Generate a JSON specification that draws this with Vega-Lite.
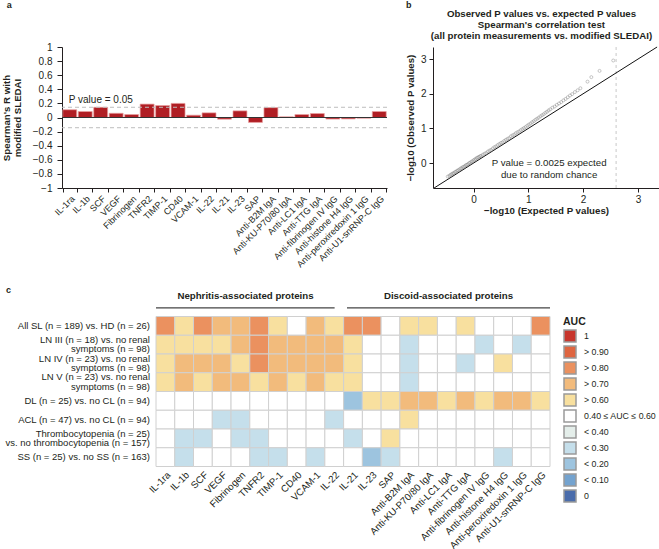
{
  "$schema": "https://vega.github.io/schema/vega-lite/v6.json",
  "padding": {"left": 1, "top": 1, "right": 0, "bottom": 0},
  "background": "white",
  "config": {
    "font": "Liberation Sans",
    "view": {"stroke": null},
    "axis": {"labelFont": "Liberation Sans", "titleFont": "Liberation Sans", "labelColor": "#231f20", "titleColor": "#231f20", "domainColor": "#231f20", "tickColor": "#231f20", "labelOverlap": false},
    "text": {"color": "#231f20", "font": "Liberation Sans"},
    "title": {"font": "Liberation Sans", "color": "#231f20"},
    "legend": {"labelFont": "Liberation Sans", "titleFont": "Liberation Sans", "labelColor": "#231f20", "titleColor": "#231f20"}
  },
  "datasets": {
    "bars": [
      {"protein": "IL-1ra", "r": 0.11}, {"protein": "IL-1b", "r": 0.085}, {"protein": "SCF", "r": 0.145},
      {"protein": "VEGF", "r": 0.06}, {"protein": "Fibrinogen", "r": 0.042}, {"protein": "TNFR2", "r": 0.19},
      {"protein": "TIMP-1", "r": 0.17}, {"protein": "CD40", "r": 0.2}, {"protein": "VCAM-1", "r": 0.033},
      {"protein": "IL-22", "r": 0.066}, {"protein": "IL-21", "r": -0.024}, {"protein": "IL-23", "r": 0.094},
      {"protein": "SAP", "r": -0.07}, {"protein": "Anti-B2M IgA", "r": 0.14}, {"protein": "Anti-KU-P70/80 IgA", "r": 0.01},
      {"protein": "Anti-LC1 IgA", "r": 0.042}, {"protein": "Anti-TTG IgA", "r": 0.056}, {"protein": "Anti-fibrinogen IV IgG", "r": -0.022},
      {"protein": "Anti-histone H4 IgG", "r": -0.02}, {"protein": "Anti-peroxiredoxin 1 IgG", "r": -0.01}, {"protein": "Anti-U1-snRNP-C IgG", "r": 0.085}
    ],
    "qq": [
      {"e": -0.47, "o": -0.39}, {"e": -0.44, "o": -0.37}, {"e": -0.42, "o": -0.34}, {"e": -0.4, "o": -0.32},
      {"e": -0.38, "o": -0.3}, {"e": -0.36, "o": -0.29}, {"e": -0.34, "o": -0.26}, {"e": -0.32, "o": -0.25},
      {"e": -0.3, "o": -0.22}, {"e": -0.28, "o": -0.21}, {"e": -0.26, "o": -0.19}, {"e": -0.24, "o": -0.16},
      {"e": -0.22, "o": -0.15}, {"e": -0.2, "o": -0.12}, {"e": -0.18, "o": -0.11}, {"e": -0.16, "o": -0.09},
      {"e": -0.14, "o": -0.06}, {"e": -0.12, "o": -0.05}, {"e": -0.1, "o": -0.03}, {"e": -0.08, "o": 0.0},
      {"e": -0.06, "o": 0.01}, {"e": -0.04, "o": 0.04}, {"e": -0.02, "o": 0.05}, {"e": 0.0, "o": 0.08},
      {"e": 0.02, "o": 0.1}, {"e": 0.04, "o": 0.12}, {"e": 0.06, "o": 0.15}, {"e": 0.08, "o": 0.16},
      {"e": 0.1, "o": 0.18}, {"e": 0.12, "o": 0.2}, {"e": 0.14, "o": 0.21}, {"e": 0.17, "o": 0.24},
      {"e": 0.2, "o": 0.27}, {"e": 0.23, "o": 0.29}, {"e": 0.26, "o": 0.33}, {"e": 0.29, "o": 0.36},
      {"e": 0.32, "o": 0.38}, {"e": 0.35, "o": 0.42}, {"e": 0.38, "o": 0.46}, {"e": 0.41, "o": 0.48},
      {"e": 0.44, "o": 0.52}, {"e": 0.47, "o": 0.55}, {"e": 0.5, "o": 0.58}, {"e": 0.53, "o": 0.6},
      {"e": 0.56, "o": 0.64}, {"e": 0.59, "o": 0.67}, {"e": 0.62, "o": 0.7}, {"e": 0.65, "o": 0.72},
      {"e": 0.68, "o": 0.77}, {"e": 0.71, "o": 0.8}, {"e": 0.74, "o": 0.82}, {"e": 0.77, "o": 0.86},
      {"e": 0.8, "o": 0.89}, {"e": 0.83, "o": 0.91}, {"e": 0.86, "o": 0.95}, {"e": 0.89, "o": 0.98},
      {"e": 0.92, "o": 1.01}, {"e": 0.95, "o": 1.04}, {"e": 0.98, "o": 1.08}, {"e": 1.01, "o": 1.11},
      {"e": 1.04, "o": 1.14}, {"e": 1.07, "o": 1.18}, {"e": 1.1, "o": 1.21}, {"e": 1.13, "o": 1.25},
      {"e": 1.16, "o": 1.28}, {"e": 1.19, "o": 1.31}, {"e": 1.22, "o": 1.35}, {"e": 1.25, "o": 1.38},
      {"e": 1.28, "o": 1.41}, {"e": 1.31, "o": 1.45}, {"e": 1.34, "o": 1.48}, {"e": 1.37, "o": 1.52},
      {"e": 1.4, "o": 1.55}, {"e": 1.44, "o": 1.6}, {"e": 1.48, "o": 1.63}, {"e": 1.52, "o": 1.68},
      {"e": 1.56, "o": 1.72}, {"e": 1.6, "o": 1.76}, {"e": 1.64, "o": 1.81}, {"e": 1.68, "o": 1.85},
      {"e": 1.72, "o": 1.9}, {"e": 1.76, "o": 1.95}, {"e": 1.8, "o": 1.99}, {"e": 1.85, "o": 2.05},
      {"e": 1.9, "o": 2.1}, {"e": 1.95, "o": 2.16}, {"e": 2.08, "o": 2.35}, {"e": 2.15, "o": 2.48},
      {"e": 2.3, "o": 2.66}, {"e": 2.55, "o": 2.96}
    ],
    "rows": [
      {"r": 1, "g": "All SL (n = 189) vs. HD (n = 26)", "lines": ["All SL (n = 189) vs. HD (n = 26)"]},
      {"r": 2, "g": "LN III (n = 18) vs. no renal symptoms (n = 98)", "lines": ["LN III (n = 18) vs. no renal", "symptoms (n = 98)"]},
      {"r": 3, "g": "LN IV (n = 23) vs. no renal symptoms (n = 98)", "lines": ["LN IV (n = 23) vs. no renal", "symptoms (n = 98)"]},
      {"r": 4, "g": "LN V (n = 23) vs. no renal symptoms (n = 98)", "lines": ["LN V (n = 23) vs. no renal", "symptoms (n = 98)"]},
      {"r": 5, "g": "DL (n = 25) vs. no CL (n = 94)", "lines": ["DL (n = 25) vs. no CL (n = 94)"]},
      {"r": 6, "g": "ACL (n = 47) vs. no CL (n = 94)", "lines": ["ACL (n = 47) vs. no CL (n = 94)"]},
      {"r": 7, "g": "Thrombocytopenia (n = 25) vs. no thrombocytopenia (n = 157)", "lines": ["Thrombocytopenia (n = 25)", "vs. no thrombocytopenia (n = 157)"]},
      {"r": 8, "g": "SS (n = 25) vs. no SS (n = 163)", "lines": ["SS (n = 25) vs. no SS (n = 163)"]}
    ],
    "cells": [
      {"r": 1, "p": "IL-1ra", "a": "> 0.80"}, {"r": 1, "p": "IL-1b", "a": "> 0.60"}, {"r": 1, "p": "SCF", "a": "> 0.80"},
      {"r": 1, "p": "VEGF", "a": "> 0.70"}, {"r": 1, "p": "Fibrinogen", "a": "> 0.70"}, {"r": 1, "p": "TNFR2", "a": "> 0.80"},
      {"r": 1, "p": "TIMP-1", "a": "> 0.60"}, {"r": 1, "p": "CD40", "a": "0.40 ≤ AUC ≤ 0.60"}, {"r": 1, "p": "VCAM-1", "a": "> 0.70"},
      {"r": 1, "p": "IL-22", "a": "> 0.60"}, {"r": 1, "p": "IL-21", "a": "> 0.80"}, {"r": 1, "p": "IL-23", "a": "> 0.80"},
      {"r": 1, "p": "SAP", "a": "0.40 ≤ AUC ≤ 0.60"}, {"r": 1, "p": "Anti-B2M IgA", "a": "> 0.60"}, {"r": 1, "p": "Anti-KU-P70/80 IgA", "a": "> 0.60"},
      {"r": 1, "p": "Anti-LC1 IgA", "a": "0.40 ≤ AUC ≤ 0.60"}, {"r": 1, "p": "Anti-TTG IgA", "a": "> 0.60"}, {"r": 1, "p": "Anti-fibrinogen IV IgG", "a": "0.40 ≤ AUC ≤ 0.60"},
      {"r": 1, "p": "Anti-histone H4 IgG", "a": "0.40 ≤ AUC ≤ 0.60"}, {"r": 1, "p": "Anti-peroxiredoxin 1 IgG", "a": "0.40 ≤ AUC ≤ 0.60"}, {"r": 1, "p": "Anti-U1-snRNP-C IgG", "a": "> 0.80"},

      {"r": 2, "p": "IL-1ra", "a": "> 0.60"}, {"r": 2, "p": "IL-1b", "a": "> 0.60"}, {"r": 2, "p": "SCF", "a": "> 0.60"},
      {"r": 2, "p": "VEGF", "a": "> 0.60"}, {"r": 2, "p": "Fibrinogen", "a": "> 0.70"}, {"r": 2, "p": "TNFR2", "a": "> 0.80"},
      {"r": 2, "p": "TIMP-1", "a": "> 0.70"}, {"r": 2, "p": "CD40", "a": "> 0.70"}, {"r": 2, "p": "VCAM-1", "a": "> 0.70"},
      {"r": 2, "p": "IL-22", "a": "> 0.70"}, {"r": 2, "p": "IL-21", "a": "> 0.60"}, {"r": 2, "p": "IL-23", "a": "0.40 ≤ AUC ≤ 0.60"},
      {"r": 2, "p": "SAP", "a": "0.40 ≤ AUC ≤ 0.60"}, {"r": 2, "p": "Anti-B2M IgA", "a": "< 0.30"}, {"r": 2, "p": "Anti-KU-P70/80 IgA", "a": "0.40 ≤ AUC ≤ 0.60"},
      {"r": 2, "p": "Anti-LC1 IgA", "a": "0.40 ≤ AUC ≤ 0.60"}, {"r": 2, "p": "Anti-TTG IgA", "a": "0.40 ≤ AUC ≤ 0.60"}, {"r": 2, "p": "Anti-fibrinogen IV IgG", "a": "< 0.30"},
      {"r": 2, "p": "Anti-histone H4 IgG", "a": "0.40 ≤ AUC ≤ 0.60"}, {"r": 2, "p": "Anti-peroxiredoxin 1 IgG", "a": "< 0.30"}, {"r": 2, "p": "Anti-U1-snRNP-C IgG", "a": "0.40 ≤ AUC ≤ 0.60"},

      {"r": 3, "p": "IL-1ra", "a": "> 0.60"}, {"r": 3, "p": "IL-1b", "a": "> 0.70"}, {"r": 3, "p": "SCF", "a": "> 0.70"},
      {"r": 3, "p": "VEGF", "a": "> 0.70"}, {"r": 3, "p": "Fibrinogen", "a": "> 0.60"}, {"r": 3, "p": "TNFR2", "a": "> 0.80"},
      {"r": 3, "p": "TIMP-1", "a": "> 0.70"}, {"r": 3, "p": "CD40", "a": "> 0.70"}, {"r": 3, "p": "VCAM-1", "a": "> 0.70"},
      {"r": 3, "p": "IL-22", "a": "> 0.70"}, {"r": 3, "p": "IL-21", "a": "> 0.60"}, {"r": 3, "p": "IL-23", "a": "0.40 ≤ AUC ≤ 0.60"},
      {"r": 3, "p": "SAP", "a": "0.40 ≤ AUC ≤ 0.60"}, {"r": 3, "p": "Anti-B2M IgA", "a": "< 0.30"}, {"r": 3, "p": "Anti-KU-P70/80 IgA", "a": "0.40 ≤ AUC ≤ 0.60"},
      {"r": 3, "p": "Anti-LC1 IgA", "a": "0.40 ≤ AUC ≤ 0.60"}, {"r": 3, "p": "Anti-TTG IgA", "a": "< 0.30"}, {"r": 3, "p": "Anti-fibrinogen IV IgG", "a": "0.40 ≤ AUC ≤ 0.60"},
      {"r": 3, "p": "Anti-histone H4 IgG", "a": "> 0.60"}, {"r": 3, "p": "Anti-peroxiredoxin 1 IgG", "a": "0.40 ≤ AUC ≤ 0.60"}, {"r": 3, "p": "Anti-U1-snRNP-C IgG", "a": "0.40 ≤ AUC ≤ 0.60"},

      {"r": 4, "p": "IL-1ra", "a": "> 0.60"}, {"r": 4, "p": "IL-1b", "a": "> 0.70"}, {"r": 4, "p": "SCF", "a": "> 0.60"},
      {"r": 4, "p": "VEGF", "a": "> 0.70"}, {"r": 4, "p": "Fibrinogen", "a": "> 0.70"}, {"r": 4, "p": "TNFR2", "a": "> 0.60"},
      {"r": 4, "p": "TIMP-1", "a": "> 0.70"}, {"r": 4, "p": "CD40", "a": "> 0.60"}, {"r": 4, "p": "VCAM-1", "a": "> 0.70"},
      {"r": 4, "p": "IL-22", "a": "> 0.60"}, {"r": 4, "p": "IL-21", "a": "> 0.60"}, {"r": 4, "p": "IL-23", "a": "0.40 ≤ AUC ≤ 0.60"},
      {"r": 4, "p": "SAP", "a": "0.40 ≤ AUC ≤ 0.60"}, {"r": 4, "p": "Anti-B2M IgA", "a": "< 0.30"}, {"r": 4, "p": "Anti-KU-P70/80 IgA", "a": "0.40 ≤ AUC ≤ 0.60"},
      {"r": 4, "p": "Anti-LC1 IgA", "a": "0.40 ≤ AUC ≤ 0.60"}, {"r": 4, "p": "Anti-TTG IgA", "a": "0.40 ≤ AUC ≤ 0.60"}, {"r": 4, "p": "Anti-fibrinogen IV IgG", "a": "0.40 ≤ AUC ≤ 0.60"},
      {"r": 4, "p": "Anti-histone H4 IgG", "a": "0.40 ≤ AUC ≤ 0.60"}, {"r": 4, "p": "Anti-peroxiredoxin 1 IgG", "a": "0.40 ≤ AUC ≤ 0.60"}, {"r": 4, "p": "Anti-U1-snRNP-C IgG", "a": "0.40 ≤ AUC ≤ 0.60"},

      {"r": 5, "p": "IL-1ra", "a": "0.40 ≤ AUC ≤ 0.60"}, {"r": 5, "p": "IL-1b", "a": "0.40 ≤ AUC ≤ 0.60"}, {"r": 5, "p": "SCF", "a": "0.40 ≤ AUC ≤ 0.60"},
      {"r": 5, "p": "VEGF", "a": "0.40 ≤ AUC ≤ 0.60"}, {"r": 5, "p": "Fibrinogen", "a": "0.40 ≤ AUC ≤ 0.60"}, {"r": 5, "p": "TNFR2", "a": "0.40 ≤ AUC ≤ 0.60"},
      {"r": 5, "p": "TIMP-1", "a": "0.40 ≤ AUC ≤ 0.60"}, {"r": 5, "p": "CD40", "a": "0.40 ≤ AUC ≤ 0.60"}, {"r": 5, "p": "VCAM-1", "a": "0.40 ≤ AUC ≤ 0.60"},
      {"r": 5, "p": "IL-22", "a": "0.40 ≤ AUC ≤ 0.60"}, {"r": 5, "p": "IL-21", "a": "< 0.20"}, {"r": 5, "p": "IL-23", "a": "> 0.60"},
      {"r": 5, "p": "SAP", "a": "> 0.60"}, {"r": 5, "p": "Anti-B2M IgA", "a": "> 0.70"}, {"r": 5, "p": "Anti-KU-P70/80 IgA", "a": "> 0.70"},
      {"r": 5, "p": "Anti-LC1 IgA", "a": "> 0.60"}, {"r": 5, "p": "Anti-TTG IgA", "a": "> 0.70"}, {"r": 5, "p": "Anti-fibrinogen IV IgG", "a": "> 0.60"},
      {"r": 5, "p": "Anti-histone H4 IgG", "a": "> 0.70"}, {"r": 5, "p": "Anti-peroxiredoxin 1 IgG", "a": "> 0.70"}, {"r": 5, "p": "Anti-U1-snRNP-C IgG", "a": "> 0.60"},

      {"r": 6, "p": "IL-1ra", "a": "0.40 ≤ AUC ≤ 0.60"}, {"r": 6, "p": "IL-1b", "a": "0.40 ≤ AUC ≤ 0.60"}, {"r": 6, "p": "SCF", "a": "0.40 ≤ AUC ≤ 0.60"},
      {"r": 6, "p": "VEGF", "a": "< 0.30"}, {"r": 6, "p": "Fibrinogen", "a": "< 0.30"}, {"r": 6, "p": "TNFR2", "a": "0.40 ≤ AUC ≤ 0.60"},
      {"r": 6, "p": "TIMP-1", "a": "0.40 ≤ AUC ≤ 0.60"}, {"r": 6, "p": "CD40", "a": "0.40 ≤ AUC ≤ 0.60"}, {"r": 6, "p": "VCAM-1", "a": "0.40 ≤ AUC ≤ 0.60"},
      {"r": 6, "p": "IL-22", "a": "< 0.30"}, {"r": 6, "p": "IL-21", "a": "0.40 ≤ AUC ≤ 0.60"}, {"r": 6, "p": "IL-23", "a": "0.40 ≤ AUC ≤ 0.60"},
      {"r": 6, "p": "SAP", "a": "0.40 ≤ AUC ≤ 0.60"}, {"r": 6, "p": "Anti-B2M IgA", "a": "> 0.60"}, {"r": 6, "p": "Anti-KU-P70/80 IgA", "a": "0.40 ≤ AUC ≤ 0.60"},
      {"r": 6, "p": "Anti-LC1 IgA", "a": "0.40 ≤ AUC ≤ 0.60"}, {"r": 6, "p": "Anti-TTG IgA", "a": "0.40 ≤ AUC ≤ 0.60"}, {"r": 6, "p": "Anti-fibrinogen IV IgG", "a": "0.40 ≤ AUC ≤ 0.60"},
      {"r": 6, "p": "Anti-histone H4 IgG", "a": "0.40 ≤ AUC ≤ 0.60"}, {"r": 6, "p": "Anti-peroxiredoxin 1 IgG", "a": "0.40 ≤ AUC ≤ 0.60"}, {"r": 6, "p": "Anti-U1-snRNP-C IgG", "a": "0.40 ≤ AUC ≤ 0.60"},

      {"r": 7, "p": "IL-1ra", "a": "0.40 ≤ AUC ≤ 0.60"}, {"r": 7, "p": "IL-1b", "a": "< 0.30"}, {"r": 7, "p": "SCF", "a": "< 0.30"},
      {"r": 7, "p": "VEGF", "a": "0.40 ≤ AUC ≤ 0.60"}, {"r": 7, "p": "Fibrinogen", "a": "< 0.30"}, {"r": 7, "p": "TNFR2", "a": "< 0.30"},
      {"r": 7, "p": "TIMP-1", "a": "0.40 ≤ AUC ≤ 0.60"}, {"r": 7, "p": "CD40", "a": "0.40 ≤ AUC ≤ 0.60"}, {"r": 7, "p": "VCAM-1", "a": "0.40 ≤ AUC ≤ 0.60"},
      {"r": 7, "p": "IL-22", "a": "0.40 ≤ AUC ≤ 0.60"}, {"r": 7, "p": "IL-21", "a": "< 0.30"}, {"r": 7, "p": "IL-23", "a": "0.40 ≤ AUC ≤ 0.60"},
      {"r": 7, "p": "SAP", "a": "> 0.60"}, {"r": 7, "p": "Anti-B2M IgA", "a": "0.40 ≤ AUC ≤ 0.60"}, {"r": 7, "p": "Anti-KU-P70/80 IgA", "a": "0.40 ≤ AUC ≤ 0.60"},
      {"r": 7, "p": "Anti-LC1 IgA", "a": "0.40 ≤ AUC ≤ 0.60"}, {"r": 7, "p": "Anti-TTG IgA", "a": "0.40 ≤ AUC ≤ 0.60"}, {"r": 7, "p": "Anti-fibrinogen IV IgG", "a": "0.40 ≤ AUC ≤ 0.60"},
      {"r": 7, "p": "Anti-histone H4 IgG", "a": "0.40 ≤ AUC ≤ 0.60"}, {"r": 7, "p": "Anti-peroxiredoxin 1 IgG", "a": "0.40 ≤ AUC ≤ 0.60"}, {"r": 7, "p": "Anti-U1-snRNP-C IgG", "a": "0.40 ≤ AUC ≤ 0.60"},

      {"r": 8, "p": "IL-1ra", "a": "0.40 ≤ AUC ≤ 0.60"}, {"r": 8, "p": "IL-1b", "a": "< 0.30"}, {"r": 8, "p": "SCF", "a": "0.40 ≤ AUC ≤ 0.60"},
      {"r": 8, "p": "VEGF", "a": "0.40 ≤ AUC ≤ 0.60"}, {"r": 8, "p": "Fibrinogen", "a": "0.40 ≤ AUC ≤ 0.60"}, {"r": 8, "p": "TNFR2", "a": "< 0.30"},
      {"r": 8, "p": "TIMP-1", "a": "< 0.30"}, {"r": 8, "p": "CD40", "a": "0.40 ≤ AUC ≤ 0.60"}, {"r": 8, "p": "VCAM-1", "a": "< 0.30"},
      {"r": 8, "p": "IL-22", "a": "0.40 ≤ AUC ≤ 0.60"}, {"r": 8, "p": "IL-21", "a": "0.40 ≤ AUC ≤ 0.60"}, {"r": 8, "p": "IL-23", "a": "< 0.20"},
      {"r": 8, "p": "SAP", "a": "< 0.30"}, {"r": 8, "p": "Anti-B2M IgA", "a": "0.40 ≤ AUC ≤ 0.60"}, {"r": 8, "p": "Anti-KU-P70/80 IgA", "a": "0.40 ≤ AUC ≤ 0.60"},
      {"r": 8, "p": "Anti-LC1 IgA", "a": "0.40 ≤ AUC ≤ 0.60"}, {"r": 8, "p": "Anti-TTG IgA", "a": "0.40 ≤ AUC ≤ 0.60"}, {"r": 8, "p": "Anti-fibrinogen IV IgG", "a": "0.40 ≤ AUC ≤ 0.60"},
      {"r": 8, "p": "Anti-histone H4 IgG", "a": "< 0.30"}, {"r": 8, "p": "Anti-peroxiredoxin 1 IgG", "a": "0.40 ≤ AUC ≤ 0.60"}, {"r": 8, "p": "Anti-U1-snRNP-C IgG", "a": "0.40 ≤ AUC ≤ 0.60"}
    ]
  },
  "concat": [
    {
      "width": 325,
      "height": 141,
      "layer": [
        {
          "data": {"name": "bars"},
          "mark": {"type": "bar", "color": "#b01e24", "stroke": "#eaa0a0", "strokeWidth": 0.7},
          "encoding": {
            "x": {"field": "protein", "type": "nominal", "sort": null,
              "scale": {"paddingInner": 0.1, "paddingOuter": 0.05},
              "axis": {"title": null, "labelAngle": -45, "labelFontSize": 9, "tickBand": "extent", "tickSize": 4, "labelPadding": 2, "labelOverlap": false}},
            "y": {"field": "r", "type": "quantitative",
              "scale": {"domain": [-1, 1], "nice": false, "zero": false},
              "axis": {"title": ["Spearman's R with", "modified SLEDAI"], "titleFontSize": 9.7, "titleFontWeight": "bold", "titleLineHeight": 11,
                "values": [-1, -0.8, -0.6, -0.4, -0.2, 0, 0.2, 0.4, 0.6, 0.8, 1], "tickCount": 11, "format": ".1~f", "grid": false,
                "tickSize": 5, "labelPadding": 5, "titlePadding": 10, "labelFontSize": 10, "labelOverlap": false, "labelFlush": false}}
          }
        },
        {
          "data": {"values": [{"line": "P value = 0.05, positive"}]},
          "mark": {"type": "rule", "color": "#bdbdbd", "strokeDash": [4, 3], "strokeWidth": 1},
          "encoding": {"y": {"datum": 0.145}}
        },
        {
          "data": {"values": [{"line": "P value = 0.05, negative"}]},
          "mark": {"type": "rule", "color": "#bdbdbd", "strokeDash": [4, 3], "strokeWidth": 1},
          "encoding": {"y": {"datum": -0.145}}
        },
        {
          "data": {"values": [{"line": "zero"}]},
          "mark": {"type": "rule", "color": "#333333", "strokeWidth": 1},
          "encoding": {"y": {"datum": 0}}
        },
        {
          "data": {"values": [{"t": "P value = 0.05"}]},
          "mark": {"type": "text", "align": "left", "baseline": "middle", "fontSize": 10, "dx": 6},
          "encoding": {"x": {"datum": "IL-1ra", "bandPosition": 0}, "y": {"datum": 0.245}, "text": {"field": "t"}}
        },
        {
          "data": {"values": [{"t": "a"}]},
          "mark": {"type": "text", "align": "left", "baseline": "middle", "fontSize": 9, "fontWeight": "bold", "dx": -56, "dy": -42},
          "encoding": {"x": {"datum": "IL-1ra", "bandPosition": 0}, "y": {"datum": 1}, "text": {"field": "t"}}
        }
      ]
    },
    {
      "width": 226,
      "height": 141,
      "layer": [
        {
          "data": {"values": [{"p_expected": 2.602}]},
          "mark": {"type": "rule", "color": "#c8c8c8", "strokeDash": [3, 3], "strokeWidth": 1},
          "encoding": {"x": {"field": "p_expected", "type": "quantitative",
            "scale": {"domain": [-0.74, 3.385], "nice": false, "zero": false},
            "axis": {"title": "−log10 (Expected P values)", "titleFontSize": 9.7, "titleFontWeight": "bold", "values": [0, 1, 2, 3], "tickCount": 4, "format": "d",
              "grid": false, "tickSize": 4, "labelPadding": 2, "titlePadding": 1, "labelFontSize": 10, "labelFlush": false}}}
        },
        {
          "data": {"values": [{"e": -0.72, "o": -0.72}, {"e": 3.35, "o": 3.35}]},
          "mark": {"type": "line", "color": "#111111", "strokeWidth": 1},
          "encoding": {
            "x": {"field": "e", "type": "quantitative"},
            "y": {"field": "o", "type": "quantitative",
              "scale": {"domain": [-0.72, 3.35], "nice": false, "zero": false},
              "axis": {"title": "−log10 (Observed P values)", "titleFontSize": 9.7, "titleFontWeight": "bold", "values": [0, 1, 2, 3], "tickCount": 4, "format": "d",
                "grid": false, "tickSize": 4, "labelPadding": 3, "titlePadding": 5, "labelFontSize": 10, "labelFlush": false}}
          }
        },
        {
          "data": {"name": "qq"},
          "mark": {"type": "point", "filled": false, "color": "#7a7a7a", "size": 9, "strokeWidth": 0.6},
          "encoding": {"x": {"field": "e", "type": "quantitative"}, "y": {"field": "o", "type": "quantitative"}}
        },
        {
          "data": {"values": [{"t": ["P value = 0.0025 expected", "due to random chance"]}]},
          "mark": {"type": "text", "align": "center", "baseline": "middle", "fontSize": 9.7, "lineHeight": 12},
          "encoding": {"x": {"datum": 1.38}, "y": {"datum": 0.0}, "text": {"field": "t"}}
        },
        {
          "data": {"values": [{"t": ["Observed P values vs. expected P values", "Spearman's correlation test", "(all protein measurements vs. modified SLEDAI)"]}]},
          "mark": {"type": "text", "align": "center", "baseline": "middle", "fontSize": 9.7, "fontWeight": "bold", "lineHeight": 11, "dy": -33},
          "encoding": {"x": {"datum": 1.24}, "y": {"datum": 3.35}, "text": {"field": "t"}}
        },
        {
          "data": {"values": [{"t": "b"}]},
          "mark": {"type": "text", "align": "left", "baseline": "middle", "fontSize": 9, "fontWeight": "bold", "dx": -27, "dy": -42},
          "encoding": {"x": {"datum": -0.74}, "y": {"datum": 3.35}, "text": {"field": "t"}}
        }
      ]
    },
    {
      "width": 325,
      "height": 150,
      "encoding": {
        "y": {"field": "g", "type": "nominal", "axis": null,
          "scale": {"domain": [
            "All SL (n = 189) vs. HD (n = 26)",
            "LN III (n = 18) vs. no renal symptoms (n = 98)",
            "LN IV (n = 23) vs. no renal symptoms (n = 98)",
            "LN V (n = 23) vs. no renal symptoms (n = 98)",
            "DL (n = 25) vs. no CL (n = 94)",
            "ACL (n = 47) vs. no CL (n = 94)",
            "Thrombocytopenia (n = 25) vs. no thrombocytopenia (n = 157)",
            "SS (n = 25) vs. no SS (n = 163)"
          ], "paddingInner": 0, "paddingOuter": 0}}
      },
      "layer": [
        {
          "data": {"name": "cells"},
          "transform": [{"lookup": "r", "from": {"data": {"name": "rows"}, "key": "r", "fields": ["g"]}}],
          "mark": {"type": "rect", "stroke": "#d0d0d0", "strokeWidth": 1},
          "encoding": {
            "x": {"field": "p", "type": "nominal", "sort": null,
              "scale": {"range": [94, 488], "paddingInner": 0, "paddingOuter": 0},
              "axis": {"title": null, "labelAngle": -45, "labelFontSize": 9.7, "ticks": false, "domain": false, "labelPadding": 3, "labelOverlap": false}},
            "color": {"field": "a", "type": "nominal",
              "scale": {
                "domain": ["1", "> 0.90", "> 0.80", "> 0.70", "> 0.60", "0.40 ≤ AUC ≤ 0.60", "< 0.40", "< 0.30", "< 0.20", "< 0.10", "0"],
                "range": ["#c8362d", "#df6540", "#eb915f", "#f2bb7c", "#f8e09f", "#ffffff", "#e4eeea", "#c5dfeb", "#9dc4df", "#74a3cf", "#4a6cab"]},
              "legend": {"title": "AUC", "orient": "right", "offset": 176, "padding": 0, "symbolType": "square", "symbolSize": 144,
                "symbolStrokeColor": "#9a9a9a", "symbolStrokeWidth": 1.5, "labelFontSize": 8.8, "titleFontSize": 10.5, "titleFontWeight": "bold",
                "rowPadding": -9.5, "labelOffset": 7, "titlePadding": 2}}
          }
        },
        {
          "data": {"name": "rows"},
          "transform": [{"filter": "length(datum.lines) == 1"}],
          "mark": {"type": "text", "align": "right", "baseline": "middle", "fontSize": 9.5, "dx": -6},
          "encoding": {"x": {"datum": "IL-1ra", "bandPosition": 0}, "text": {"field": "lines"}}
        },
        {
          "data": {"name": "rows"},
          "transform": [{"filter": "length(datum.lines) == 2"}],
          "mark": {"type": "text", "align": "right", "baseline": "middle", "fontSize": 9.5, "lineHeight": 9.6, "dx": -6, "dy": -4.8},
          "encoding": {"x": {"datum": "IL-1ra", "bandPosition": 0}, "text": {"field": "lines"}}
        },
        {
          "data": {"values": [{"h": "Nephritis-associated proteins"}]},
          "mark": {"type": "rule", "color": "#444444", "strokeWidth": 1.2, "yOffset": -8.7},
          "encoding": {
            "x": {"datum": "IL-1ra", "bandPosition": 0},
            "x2": {"datum": "IL-22", "bandPosition": 0.52},
            "y": {"datum": "All SL (n = 189) vs. HD (n = 26)", "bandPosition": 0}
          }
        },
        {
          "data": {"values": [{"h": "Discoid-associated proteins"}]},
          "mark": {"type": "rule", "color": "#444444", "strokeWidth": 1.2, "yOffset": -8.7},
          "encoding": {
            "x": {"datum": "IL-21", "bandPosition": 0.18},
            "x2": {"datum": "Anti-U1-snRNP-C IgG", "bandPosition": 1},
            "y": {"datum": "All SL (n = 189) vs. HD (n = 26)", "bandPosition": 0}
          }
        },
        {
          "data": {"values": [{"h": "Nephritis-associated proteins"}]},
          "mark": {"type": "text", "fontSize": 9.7, "fontWeight": "bold", "align": "center", "baseline": "middle", "dy": -20.5},
          "encoding": {
            "x": {"datum": "Fibrinogen", "bandPosition": 0.77},
            "y": {"datum": "All SL (n = 189) vs. HD (n = 26)", "bandPosition": 0},
            "text": {"field": "h"}
          }
        },
        {
          "data": {"values": [{"h": "Discoid-associated proteins"}]},
          "mark": {"type": "text", "fontSize": 9.7, "fontWeight": "bold", "align": "center", "baseline": "middle", "dy": -20.5},
          "encoding": {
            "x": {"datum": "Anti-LC1 IgA", "bandPosition": 0.59},
            "y": {"datum": "All SL (n = 189) vs. HD (n = 26)", "bandPosition": 0},
            "text": {"field": "h"}
          }
        },
        {
          "data": {"values": [{"t": "c"}]},
          "mark": {"type": "text", "fontSize": 9, "fontWeight": "bold", "align": "left", "baseline": "middle", "dx": -150, "dy": -27},
          "encoding": {
            "x": {"datum": "IL-1ra", "bandPosition": 0},
            "y": {"datum": "All SL (n = 189) vs. HD (n = 26)", "bandPosition": 0},
            "text": {"field": "t"}
          }
        }
      ]
    }
  ],
  "columns": 2,
  "align": "none",
  "bounds": "flush",
  "spacing": {"row": 128.5, "column": 46},
  "resolve": {"scale": {"color": "independent"}, "legend": {"color": "independent"}}
}
